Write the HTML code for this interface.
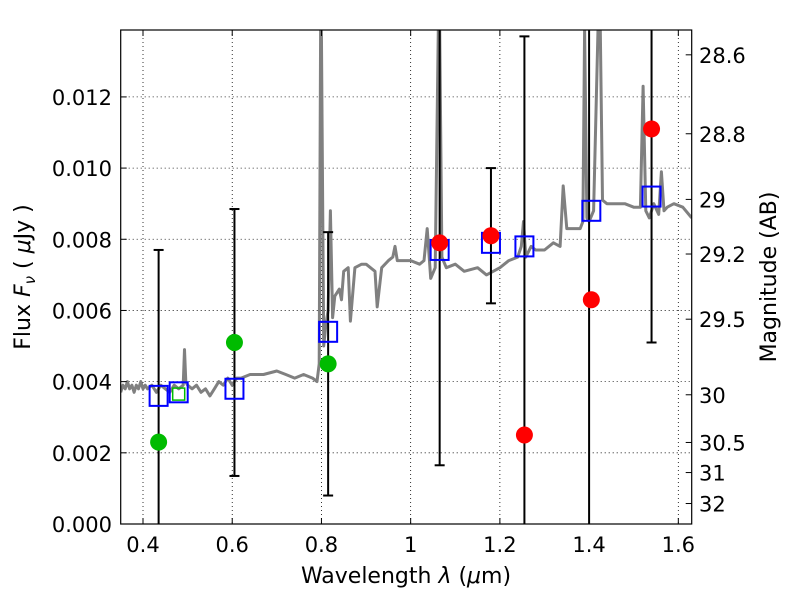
<!DOCTYPE html>
<html><head><meta charset="utf-8"><style>
body{margin:0;background:#fff;}
svg{font-family:"DejaVu Sans","Liberation Sans",sans-serif;}
</style></head><body>
<svg id="chart" width="800" height="600">
<defs><clipPath id="clip"><rect x="120.7" y="30" width="571" height="494"/></clipPath></defs>
<rect x="0" y="0" width="800" height="600" fill="#fff"/>
<g id="grid"></g>
<g id="spec" clip-path="url(#clip)"></g>
<g id="err" clip-path="url(#clip)"></g>
<g id="marks"></g>
<rect x="120.7" y="30" width="571" height="494" fill="none" stroke="#000" stroke-width="1.2"/>
<g id="axes"></g>
<text x="406" y="583" font-size="22" text-anchor="middle">Wavelength  <tspan font-style="italic">λ</tspan> (<tspan font-style="italic">μ</tspan>m)</text>
<text transform="translate(30,277) rotate(-90)" font-size="22" text-anchor="middle">Flux  <tspan font-style="italic">F</tspan><tspan font-style="italic" font-size="15" dy="5">ν</tspan><tspan dy="-5">  (  </tspan><tspan font-style="italic">μ</tspan>Jy )</text>
<text transform="translate(776,277) rotate(-90)" font-size="22" text-anchor="middle">Magnitude (AB)</text>
</svg>
<script>
const xTicks=[0.4,0.6,0.8,1.0,1.2,1.4,1.6];
const xTickLabels=["0.4","0.6","0.8","1","1.2","1.4","1.6"];
const yTicks=[0,0.002,0.004,0.006,0.008,0.010,0.012];
const yTickLabels=["0.000","0.002","0.004","0.006","0.008","0.010","0.012"];
const magTicks=[28.6,28.8,29,29.2,29.5,30,30.5,31,32];
const magTickLabels=["28.6","28.8","29","29.2","29.5","30","30.5","31","32"];
const specWave=[0.35,0.355,0.36,0.365,0.37,0.375,0.38,0.385,0.39,0.395,0.40,0.405,0.41,0.42,0.43,0.44,0.45,0.46,0.47,0.48,0.49,0.493,0.496,0.50,0.51,0.52,0.53,0.54,0.55,0.56,0.57,0.58,0.59,0.60,0.61,0.62,0.64,0.65,0.67,0.70,0.72,0.74,0.76,0.78,0.79,0.795,0.798,0.80,0.805,0.81,0.815,0.82,0.825,0.83,0.84,0.845,0.85,0.86,0.865,0.875,0.89,0.90,0.92,0.925,0.935,0.95,0.96,0.965,0.97,0.98,1.0,1.02,1.03,1.037,1.045,1.055,1.062,1.065,1.07,1.08,1.1,1.12,1.15,1.17,1.2,1.22,1.24,1.248,1.253,1.258,1.27,1.28,1.3,1.32,1.335,1.342,1.35,1.38,1.386,1.39,1.395,1.40,1.41,1.42,1.425,1.43,1.44,1.46,1.48,1.50,1.515,1.521,1.527,1.535,1.545,1.556,1.562,1.568,1.575,1.59,1.61,1.63];
const specFlux=[0.0037,0.0039,0.0038,0.0040,0.0038,0.0039,0.0037,0.0039,0.0038,0.0040,0.0038,0.0039,0.0038,0.0039,0.0037,0.0039,0.0038,0.0037,0.0039,0.0038,0.0039,0.0049,0.0040,0.0039,0.0038,0.0039,0.0037,0.0038,0.0036,0.0038,0.0040,0.0039,0.0041,0.0039,0.0041,0.0041,0.0042,0.0042,0.0042,0.0043,0.0042,0.0041,0.0042,0.0041,0.0040,0.0045,0.0139,0.0139,0.0050,0.0056,0.0060,0.0088,0.0058,0.0064,0.0066,0.0063,0.0071,0.0072,0.0057,0.0072,0.0073,0.0073,0.0071,0.0061,0.0072,0.0074,0.0075,0.0078,0.0074,0.0074,0.0074,0.0073,0.0074,0.0083,0.0069,0.0072,0.0139,0.0139,0.0075,0.0072,0.0073,0.0071,0.0072,0.0070,0.0072,0.0074,0.0075,0.0078,0.0085,0.0075,0.0078,0.0077,0.0077,0.0079,0.0078,0.0095,0.0083,0.0083,0.0085,0.0139,0.0086,0.0085,0.0088,0.0139,0.0139,0.0091,0.0090,0.0090,0.0090,0.0089,0.0089,0.0123,0.0088,0.0086,0.0090,0.0087,0.0099,0.0088,0.0089,0.0090,0.0089,0.0086];
const blueWave=[0.435,0.48,0.605,0.815,1.065,1.18,1.255,1.405,1.54];
const blueFlux=[0.0036,0.0037,0.0038,0.0054,0.0077,0.0079,0.0078,0.0088,0.0092];
const greenWave=[0.435,0.605,0.815];
const greenFlux=[0.0023,0.0051,0.0045];
const greenSqWave=[0.48];
const greenSqFlux=[0.00365];
const redWave=[1.065,1.18,1.255,1.405,1.54];
const redFlux=[0.0079,0.0081,0.0025,0.0063,0.0111];
const errWave=[0.435,0.605,0.815,1.065,1.18,1.255,1.40,1.54];
const errLow=[-0.001,0.00135,0.0008,0.00165,0.0062,-0.001,-0.001,0.0051];
const errHigh=[0.0077,0.00885,0.0082,0.02,0.0100,0.0137,0.02,0.02];

const X0=120.7,X1=691.7,Y0=524,Y1=30,XMIN=0.35,XMAX=1.63,YMIN=0,YMAX=0.01388;
const sx=v=>X0+(v-XMIN)/(XMAX-XMIN)*(X1-X0);
const sy=v=>Y0-(v-YMIN)/(YMAX-YMIN)*(Y0-Y1);
const smag=m=>sy(Math.pow(10,(23.9-m)/2.5));
const NS="http://www.w3.org/2000/svg";
function mk(tag,attrs,parent){const e=document.createElementNS(NS,tag);for(const k in attrs)e.setAttribute(k,attrs[k]);parent.appendChild(e);return e;}
const grid=document.getElementById('grid'),axes=document.getElementById('axes');
xTicks.forEach((t,i)=>{const x=sx(t);
 let g=mk('line',{x1:x,x2:x,y1:Y1,y2:Y0,stroke:'#000','stroke-width':0.8,'stroke-dasharray':'1,3'},grid);
 
 mk('line',{x1:x,x2:x,y1:Y0,y2:Y0-6,stroke:'#000'},axes);mk('line',{x1:x,x2:x,y1:Y1,y2:Y1+6,stroke:'#000'},axes);
 const tx=mk('text',{x:x,y:552,'font-size':21,'text-anchor':'middle'},axes);tx.textContent=xTickLabels[i];
 });
yTicks.forEach((t,i)=>{const y=sy(t);
 let g=mk('line',{x1:X0,x2:X1,y1:y,y2:y,stroke:'#000','stroke-width':0.8,'stroke-dasharray':'1,3'},grid);
 
 mk('line',{x1:X0,x2:X0+6,y1:y,y2:y,stroke:'#000'},axes);
 const tx=mk('text',{x:112,y:y+8,'font-size':21,'text-anchor':'end'},axes);tx.textContent=yTickLabels[i];
 });
magTicks.forEach((m,i)=>{const y=smag(m);
 mk('line',{x1:X1,x2:X1-6,y1:y,y2:y,stroke:'#000'},axes);
 const tx=mk('text',{x:699,y:y+8,'font-size':21},axes);tx.textContent=magTickLabels[i];
 });
const spec=document.getElementById('spec');
let d=specWave.map((w,i)=>(i?'L':'M')+sx(w).toFixed(1)+','+sy(specFlux[i]).toFixed(1)).join('');
const sp=mk('path',{d:d,fill:'none',stroke:'#808080','stroke-width':3,'stroke-linejoin':'round'},spec);

const err=document.getElementById('err');
errWave.forEach((w,i)=>{const x=sx(w),yl=sy(errLow[i]),yh=sy(errHigh[i]);
 const l=mk('line',{x1:x,x2:x,y1:yl,y2:yh,stroke:'#000','stroke-width':2},err);
 
 [yl,yh].forEach(y=>mk('line',{x1:x-5,x2:x+5,y1:y,y2:y,stroke:'#000','stroke-width':2},err));});
const marks=document.getElementById('marks');
greenSqWave.forEach((w,i)=>{const r=mk('rect',{x:sx(w)-6,y:sy(greenSqFlux[i])-6,width:12,height:12,fill:'none',stroke:'#00bb00','stroke-width':1.5},marks);
 });
blueWave.forEach((w,i)=>{const r=mk('rect',{x:sx(w)-9,y:sy(blueFlux[i])-10,width:18,height:20,fill:'none',stroke:'#0000ff','stroke-width':2},marks);
 });
greenWave.forEach((w,i)=>{const c=mk('circle',{cx:sx(w),cy:sy(greenFlux[i]),r:8.5,fill:'#00bb00'},marks);
 });
redWave.forEach((w,i)=>{const c=mk('circle',{cx:sx(w),cy:sy(redFlux[i]),r:8.5,fill:'#ff0000'},marks);
 });
</script>
</body></html>
